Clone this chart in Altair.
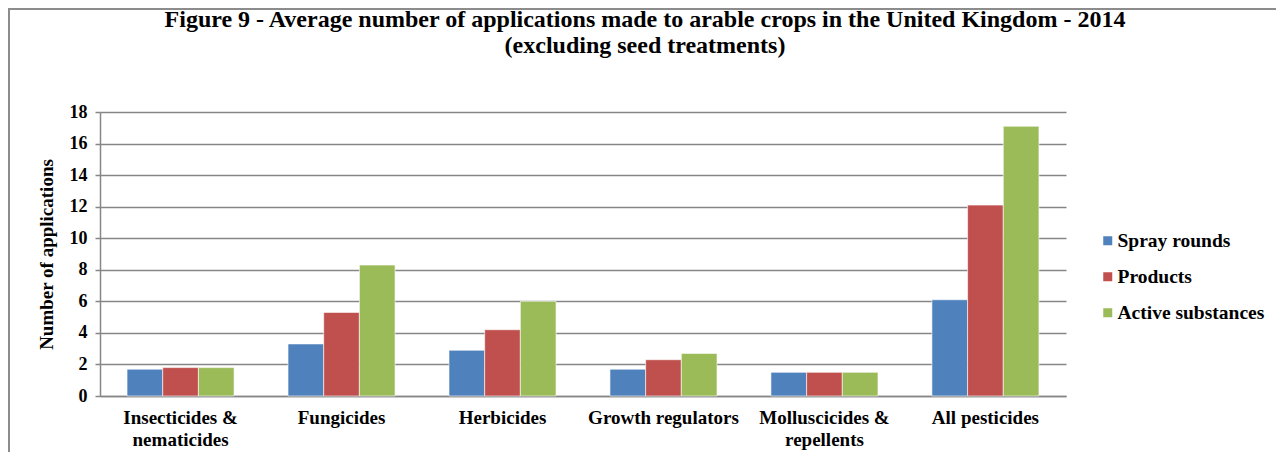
import altair as alt
import pandas as pd

categories = ["Insecticides & nematicides", "Fungicides", "Herbicides",
              "Growth regulators", "Molluscicides & repellents", "All pesticides"]
series = ["Spray rounds", "Products", "Active substances"]
spray_rounds = [1.7, 3.3, 2.9, 1.7, 1.5, 6.1]
products = [1.8, 5.3, 4.2, 2.3, 1.5, 12.1]
active_substances = [1.8, 8.3, 6.0, 2.7, 1.5, 17.1]
colors = ["#4F81BD", "#C0504D", "#9BBB59"]
y_ticks = [0, 2, 4, 6, 8, 10, 12, 14, 16, 18]

rows = []
for s, vals in zip(series, [spray_rounds, products, active_substances]):
    for c, v in zip(categories, vals):
        rows.append({"category": c, "series": s, "value": v})
df = pd.DataFrame(rows)

FONT = "Liberation Serif, Times New Roman, Tinos, serif"
GRID = "#868686"

label_expr = ("datum.value == 'Insecticides & nematicides' ? ['Insecticides &', 'nematicides'] : "
              "datum.value == 'Molluscicides & repellents' ? ['Molluscicides &', 'repellents'] : datum.value")

bars = alt.Chart(df).mark_bar(stroke="white", strokeWidth=0.6).encode(
    x=alt.X("category:N", sort=categories,
            scale=alt.Scale(paddingInner=0.335, paddingOuter=0.168),
            axis=alt.Axis(title=None, labelAngle=0, labelExpr=label_expr,
                          labelFont=FONT, labelFontSize=19, labelFontWeight="bold",
                          labelColor="black", labelPadding=12, labelLineHeight=22,
                          ticks=False, domainColor=GRID, domainWidth=1.5)),
    xOffset=alt.XOffset("series:N", sort=series, scale=alt.Scale(paddingInner=0, paddingOuter=0)),
    y=alt.Y("value:Q", scale=alt.Scale(domain=[0, 18], nice=False),
            axis=alt.Axis(title="Number of applications", values=y_ticks,
                          titleFont=FONT, titleFontSize=19, titleFontWeight="bold",
                          titleColor="black", titlePadding=13,
                          labelFont=FONT, labelFontSize=18, labelFontWeight="bold",
                          labelColor="black", labelPadding=8,
                          tickColor=GRID, tickSize=5, tickWidth=1.5,
                          domainColor=GRID, domainWidth=1.5,
                          gridColor=GRID, gridWidth=1.5)),
    color=alt.Color("series:N", sort=series,
                    scale=alt.Scale(domain=series, range=colors),
                    legend=alt.Legend(title=None, orient="none", legendX=998, legendY=119,
                                      symbolType="square", symbolSize=81, symbolStrokeWidth=0,
                                      labelFont=FONT, labelFontSize=19.5, labelFontWeight="bold",
                                      labelColor="black", labelOffset=0, rowPadding=15,
                                      padding=0)),
)

frame = alt.Chart(pd.DataFrame({"k": [0]})).mark_rect(
    fill=None, stroke="#8c8c8c", strokeWidth=2
).encode(x=alt.value(-91), y=alt.value(-103), x2=alt.value(1300), y2=alt.value(500))

title_lines = ["Figure 9 - Average number of applications made to arable crops in the United Kingdom - 2014",
               "(excluding seed treatments)"]

chart = alt.layer(frame, bars).properties(
    width=966, height=284,
    title=alt.Title(title_lines, font=FONT, fontSize=24, fontWeight="bold", color="black",
                    anchor="middle", frame="group", dx=62, offset=-50, lineHeight=26),
    autosize=alt.AutoSizeParams(type="none"),
    padding={"left": 92, "top": 104, "right": 210, "bottom": 56},
).configure_view(stroke=None)

chart.save("out.html", embed_options={"renderer": "svg", "actions": False})
